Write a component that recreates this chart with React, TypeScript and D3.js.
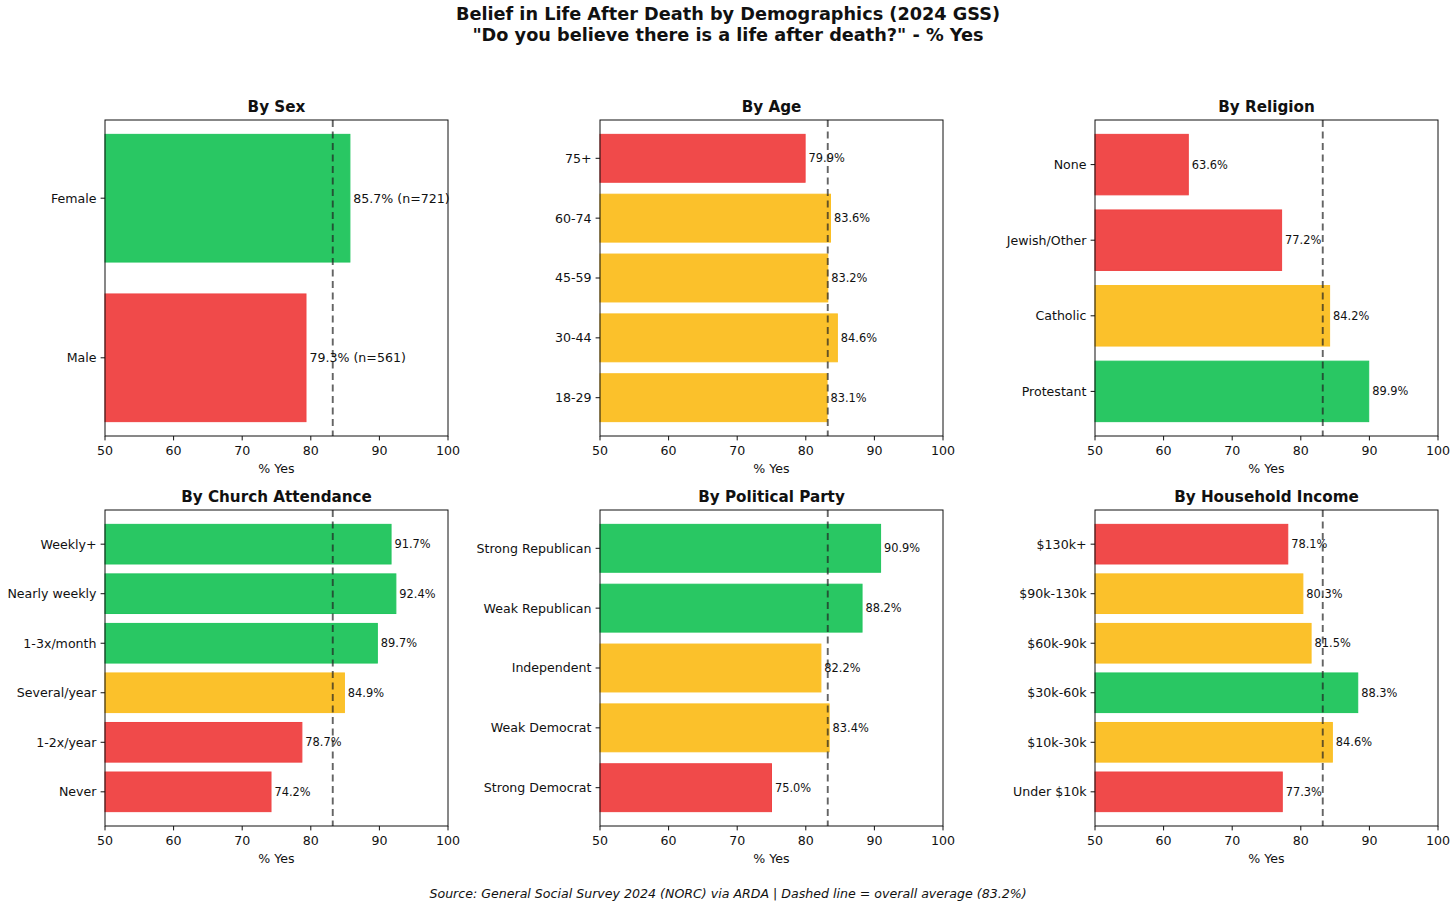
import React from "react";
import * as d3 from "d3";

// categories listed bottom -> top (as matplotlib barh draws them)
const sexCats = ["Male", "Female"];
const sexVals = [79.3, 85.7];
const sexN = [561, 721];

const ageCats = ["18-29", "30-44", "45-59", "60-74", "75+"];
const ageVals = [83.1, 84.6, 83.2, 83.6, 79.9];

const religionCats = ["Protestant", "Catholic", "Jewish/Other", "None"];
const religionVals = [89.9, 84.2, 77.2, 63.6];

const churchCats = ["Never", "1-2x/year", "Several/year", "1-3x/month", "Nearly weekly", "Weekly+"];
const churchVals = [74.2, 78.7, 84.9, 89.7, 92.4, 91.7];

const partyCats = ["Strong Democrat", "Weak Democrat", "Independent", "Weak Republican", "Strong Republican"];
const partyVals = [75.0, 83.4, 82.2, 88.2, 90.9];

const incomeCats = ["Under $10k", "$10k-30k", "$30k-60k", "$60k-90k", "$90k-130k", "$130k+"];
const incomeVals = [77.3, 84.6, 88.3, 81.5, 80.3, 78.1];

const xTicks = [50, 60, 70, 80, 90, 100];
const overall = 83.2;

const W = 1456;
const H = 906;
const FONT = "DejaVu Sans, sans-serif";

const colorFor = (v: number) => (v > 85 ? "#22c55e" : v < 80 ? "#ef4444" : "#fbbf24");

interface PanelProps {
	title: string;
	cats: string[];
	vals: number[];
	left: number;
	top: number;
	labels?: string[];
	labelSize?: number;
}

const Panel: React.FC<PanelProps> = ({ title, cats, vals, left, top, labels, labelSize = 11.4 }) => {
	const width = 343;
	const height = 316;
	const n = cats.length;
	const span = n - 1 + 0.8;
	const lo = -0.4 - 0.05 * span;
	const hi = n - 1 + 0.4 + 0.05 * span;

	const x = d3.scaleLinear().domain([50, 100]).range([0, width]);
	const y = d3.scaleLinear().domain([lo, hi]).range([height, 0]);
	const barH = y(0) - y(0.8);

	return (
		<g transform={`translate(${left},${top})`} fontFamily={FONT}>
			{/* bars */}
			{vals.map((v, i) => (
				<rect
					key={cats[i]}
					x={x(50)}
					y={y(i + 0.4)}
					width={x(v) - x(50)}
					height={barH}
					fill={colorFor(v)}
					fillOpacity={0.97}
					stroke={colorFor(v)}
					strokeWidth={1}
				/>
			))}
			{/* average line */}
			<line
				x1={x(overall)}
				x2={x(overall)}
				y1={0}
				y2={height}
				stroke="#222"
				strokeOpacity={0.7}
				strokeWidth={1.9}
				strokeDasharray="7,4.5"
			/>
			{/* value labels */}
			{vals.map((v, i) => (
				<text key={"l" + i} x={x(v + 0.5)} y={y(i)} dy="0.35em" fontSize={labelSize} fill="#111">
					{labels ? labels[i] : `${v.toFixed(1)}%`}
				</text>
			))}
			{/* frame */}
			<rect x={0} y={0} width={width} height={height} fill="none" stroke="#111" strokeWidth={1} />
			{/* y ticks */}
			{cats.map((c, i) => (
				<g key={"y" + c} transform={`translate(0,${y(i)})`}>
					<line x1={-4.4} x2={0} stroke="#111" strokeWidth={1} />
					<text x={-8.5} dy="0.35em" textAnchor="end" fontSize={12.6} fill="#111">
						{c}
					</text>
				</g>
			))}
			{/* x ticks */}
			{xTicks.map((t) => (
				<g key={"x" + t} transform={`translate(${x(t)},${height})`}>
					<line y1={0} y2={4.4} stroke="#111" strokeWidth={1} />
					<text y={19} textAnchor="middle" fontSize={12.6} fill="#111">
						{t}
					</text>
				</g>
			))}
			<text x={width / 2} y={height + 37} textAnchor="middle" fontSize={12.6} fill="#111">
				% Yes
			</text>
			<text x={width / 2} y={-8} textAnchor="middle" fontSize={15.2} fontWeight="bold" fill="#111">
				{title}
			</text>
		</g>
	);
};

const App: React.FC = () => {
	const lefts = [105, 600, 1095];
	const tops = [120, 510];
	const sexLabels = sexVals.map((v, i) => `${v.toFixed(1)}% (n=${sexN[i]})`);

	return (
		<svg
			width={W}
			height={H}
			style={{ position: "absolute", left: 0, top: 0, background: "#fff" }}
			fontFamily={FONT}
		>
			<rect width={W} height={H} fill="#fff" />
			<text x={W / 2} y={20} textAnchor="middle" fontSize={17.7} fontWeight="bold" fill="#111">
				Belief in Life After Death by Demographics (2024 GSS)
			</text>
			<text x={W / 2} y={40.5} textAnchor="middle" fontSize={17.7} fontWeight="bold" fill="#111">
				"Do you believe there is a life after death?" - % Yes
			</text>

			<Panel title="By Sex" cats={sexCats} vals={sexVals} left={lefts[0]} top={tops[0]} labels={sexLabels} labelSize={12.6} />
			<Panel title="By Age" cats={ageCats} vals={ageVals} left={lefts[1]} top={tops[0]} />
			<Panel title="By Religion" cats={religionCats} vals={religionVals} left={lefts[2]} top={tops[0]} />
			<Panel title="By Church Attendance" cats={churchCats} vals={churchVals} left={lefts[0]} top={tops[1]} />
			<Panel title="By Political Party" cats={partyCats} vals={partyVals} left={lefts[1]} top={tops[1]} />
			<Panel title="By Household Income" cats={incomeCats} vals={incomeVals} left={lefts[2]} top={tops[1]} />

			<text x={W / 2} y={898} textAnchor="middle" fontSize={12.6} fontStyle="italic" fill="#111">
				Source: General Social Survey 2024 (NORC) via ARDA | Dashed line = overall average (83.2%)
			</text>
		</svg>
	);
};

export default App;
